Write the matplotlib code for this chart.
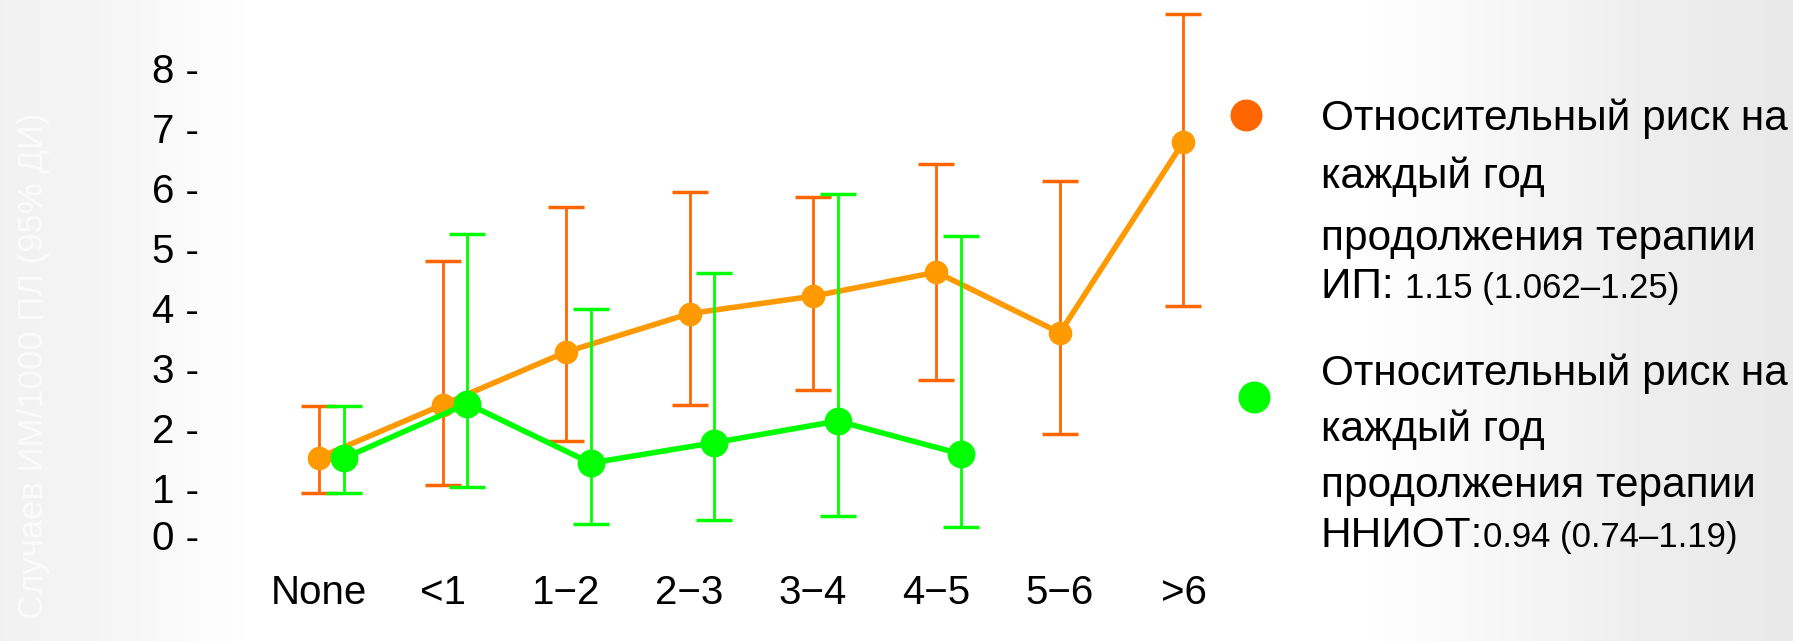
import numpy as np
import matplotlib.pyplot as plt

plt.rcParams['font.family'] = ['Liberation Sans', 'DejaVu Sans']

categories = ['None', '<1', '1−2', '2−3', '3−4', '4−5', '5−6', '>6']

# ИП (orange series)
ip_rate = [1.51, 2.39, 3.27, 3.91, 4.20, 4.60, 3.59, 6.77]
ip_low = [0.92, 1.06, 1.78, 2.39, 2.64, 2.81, 1.91, 4.03]
ip_high = [2.37, 4.79, 5.69, 5.93, 5.86, 6.41, 6.12, 8.90]

# ННИОТ (green series)
nn_rate = [1.50, 2.41, 1.42, 1.76, 2.12, 1.57]
nn_low = [0.92, 1.02, 0.41, 0.47, 0.54, 0.35]
nn_high = [2.37, 5.23, 3.99, 4.58, 5.90, 5.21]

ytick_labels = ['0', '1', '2', '3', '4', '5', '6', '7', '8']
ytick_pos = [0.22, 1, 2, 3, 4, 5, 6, 7, 8]

W, H = 1793, 641
fig = plt.figure(figsize=(W / 100, H / 100), dpi=100)

# background: soft grey gradient at both sides
bg = fig.add_axes([0, 0, 1, 1], zorder=0)
xs = np.arange(W)
shade = np.interp(xs, [0, 90, 260, 1350, 1650, W], [0.945, 0.955, 1.0, 1.0, 0.93, 0.91])
bg.imshow(np.tile(shade, (H, 1)), cmap='gray', vmin=0, vmax=1, aspect='auto',
          extent=[0, W, H, 0])
bg.set_xlim(0, W)
bg.set_ylim(H, 0)
bg.axis('off')

ax = fig.add_axes([200 / W, 1 - 560 / H, 1030 / W, 560 / H], zorder=1)
ax.patch.set_alpha(0)

x_ip = np.arange(len(ip_rate))
x_nn = np.arange(len(nn_rate)) + 0.2

ip_r = np.array(ip_rate)
nn_r = np.array(nn_rate)

ax.errorbar(x_ip, ip_r, yerr=[ip_r - np.array(ip_low), np.array(ip_high) - ip_r],
            fmt='none', ecolor='#FF6600', elinewidth=2, capsize=13, capthick=2.5, zorder=2)
ax.plot(x_ip, ip_r, '-o', color='#FF9900', lw=4, ms=16, zorder=3)

ax.errorbar(x_nn, nn_r, yerr=[nn_r - np.array(nn_low), np.array(nn_high) - nn_r],
            fmt='none', ecolor='#00FF00', elinewidth=2, capsize=13, capthick=2.5, zorder=4)
ax.plot(x_nn, nn_r, '-o', color='#00FF00', lw=4, ms=19, zorder=5)

ax.set_xlim(-0.964, 7.377)
ax.set_ylim(-0.195, 9.134)
ax.set_xticks(x_ip, labels=categories)
ax.set_yticks(ytick_pos, labels=[t + ' -' for t in ytick_labels])
ax.tick_params(axis='both', length=0, labelsize=29)
ax.tick_params(axis='y', pad=1)
ax.tick_params(axis='x', pad=10)
for s in ax.spines.values():
    s.set_visible(False)

fig.text(34 / W, 1 - 366 / H, 'Случаев ИМ/1000 ПЛ (95% ДИ)', rotation=90,
         ha='center', va='center', fontsize=25, color='#FBFBFB')

# legend
bg.plot([1246], [115], 'o', color='#FF6600', ms=22)
bg.plot([1254], [397], 'o', color='#00FF00', ms=22)

lines = ['Относительный риск на', 'каждый год', 'продолжения терапии']
groups = [
    ([130, 188, 250], 298, 'ИП: ', '1.15 (1.062–1.25)'),
    ([385, 441, 497], 547, 'ННИОТ:', '0.94 (0.74–1.19)'),
]
heads = []
for bases, last, head, nums in groups:
    for y, line in zip(bases, lines):
        bg.text(1321, y, line, fontsize=30.5, va='baseline', ha='left')
    heads.append((bg.text(1321, last, head, fontsize=30.5, va='baseline', ha='left'), last, nums))

fig.canvas.draw()
r = fig.canvas.get_renderer()
for t, last, nums in heads:
    ext = t.get_window_extent(r)
    x_end = bg.transData.inverted().transform((ext.x1, ext.y0))[0]
    bg.text(x_end, last, nums, fontsize=25, va='baseline', ha='left')

fig.savefig('out.png', dpi=100)
